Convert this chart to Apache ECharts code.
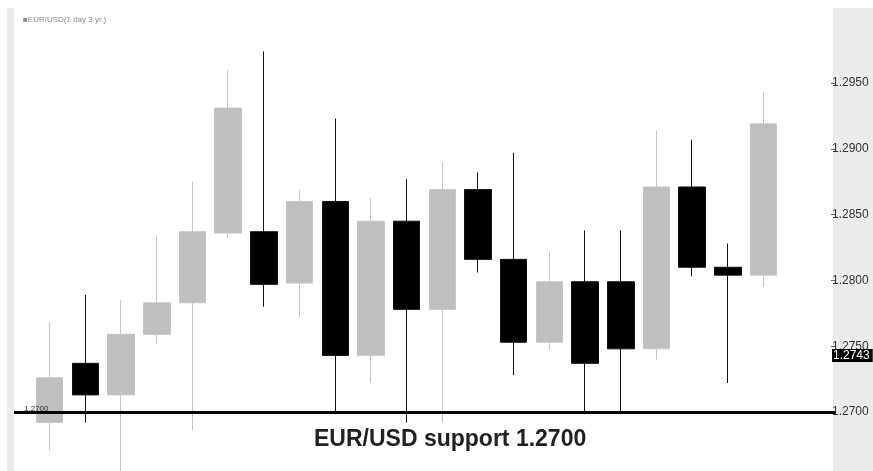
<!DOCTYPE html>
<html>
<head>
<meta charset="utf-8">
<script src="https://cdn.jsdelivr.net/npm/echarts@6/dist/echarts.min.js"></script>
<style>html,body{margin:0;padding:0;background:#fff;}#c{width:873px;height:471px;}</style>
</head>
<body>
<div id="c"></div>
<script>
// Daily candles, EUR/USD
const categories = ['', 'D1','D2','D3','D4','D5','D6','D7','D8','D9','D10','D11','D12','D13','D14','D15','D16','D17','D18','D19','D20','D21', ' ', '  '];
const opens  = [1.2692,1.2737,1.2713,1.2759,1.2783,1.2836,1.2837,1.2798,1.2860,1.2743,1.2845,1.2778,1.2869,1.2816,1.2753,1.2799,1.2799,1.2748,1.2871,1.2810,1.2804];
const closes = [1.2726,1.2713,1.2759,1.2783,1.2837,1.2931,1.2797,1.2860,1.2743,1.2845,1.2778,1.2869,1.2816,1.2753,1.2799,1.2737,1.2748,1.2871,1.2810,1.2804,1.2919];
const lows   = [1.2671,1.2692,1.2654,1.2752,1.2686,1.2832,1.2780,1.2772,1.2699,1.2722,1.2692,1.2692,1.2806,1.2728,1.2747,1.2700,1.2700,1.2740,1.2803,1.2722,1.2795];
const highs  = [1.2768,1.2789,1.2785,1.2834,1.2875,1.2960,1.2974,1.2869,1.2923,1.2863,1.2877,1.2890,1.2882,1.2897,1.2822,1.2838,1.2838,1.2914,1.2907,1.2828,1.2943];
const yTicks = [1.2700,1.2750,1.2800,1.2850,1.2900,1.2950];
const supportLevel = 1.2700;
const lastPrice = 1.2743;
const titleText = '■EUR/USD(1 day 3 yr.)';
const captionText = 'EUR/USD support 1.2700';

const empty = ['-','-','-','-'];
const candleData = [empty];
for (let i = 0; i < opens.length; i++) candleData.push([opens[i], closes[i], lows[i], highs[i]]);
candleData.push(empty, empty);

const chart = echarts.init(document.getElementById('c'), null, {renderer: 'canvas'});
chart.setOption({
  animation: false,
  backgroundColor: '#ffffff',
  graphic: [
    {type: 'rect', left: 7, top: 8, shape: {width: 7, height: 463}, style: {fill: '#ebebeb'}, z: -10},
    {type: 'rect', right: 0, top: 8, shape: {width: 40, height: 463}, style: {fill: '#ebebeb'}, z: -10}
  ],
  title: [
    {text: titleText, left: 18, top: 11, textStyle: {fontSize: 8, fontWeight: 'normal', color: '#8a8a8a', fontFamily: 'Liberation Sans'}},
    {text: captionText, left: 309, top: 423, textStyle: {fontSize: 23, fontWeight: 'bold', color: '#222', fontFamily: 'Liberation Sans'}}
  ],
  grid: {left: 14, right: 38, top: 30.4, height: 447.4, containLabel: false, outerBoundsMode: 'none'},
  xAxis: {
    type: 'category', data: categories, boundaryGap: false,
    axisLine: {show: false}, axisTick: {show: false}, axisLabel: {show: false}, splitLine: {show: false}
  },
  yAxis: {
    type: 'value', position: 'right', min: 1.265, max: 1.299, interval: 0.005, scale: true,
    axisLine: {show: false},
    axisTick: {show: true, inside: true, length: 4, lineStyle: {color: '#666'}},
    splitLine: {show: false},
    axisLabel: {
      margin: -3, showMinLabel: false, showMaxLabel: false,
      fontSize: 12, color: '#333', fontFamily: 'Liberation Sans',
      formatter: v => (yTicks.some(t => Math.abs(t - v) < 1e-7) ? v.toFixed(4) : '')
    },
    axisPointer: {
      show: true, status: 'show', value: lastPrice, type: 'line', triggerTooltip: false,
      lineStyle: {color: 'rgba(0,0,0,0)', width: 0},
      label: {show: true, margin: -3, backgroundColor: '#000', borderRadius: 0, color: '#fff', fontSize: 12, padding: [1, 3, 0, 1], fontFamily: 'Liberation Sans',
              formatter: p => Number(p.value).toFixed(4)}
    }
  },
  series: [{
    type: 'candlestick',
    data: candleData,
    barWidth: 27,
    itemStyle: {color: '#bfbfbf', color0: '#000000', borderColor: '#c6c6c6', borderColor0: '#111111', borderWidth: 1},
    markLine: {
      silent: true, symbol: ['none', 'none'], animation: false,
      data: [
        {yAxis: supportLevel, lineStyle: {color: '#000', width: 3, type: 'solid'},
         label: {show: true, position: 'insideStartTop', formatter: supportLevel.toFixed(4), fontSize: 8, color: '#333', distance: [10, -1], fontFamily: 'Liberation Sans'}}
      ]
    }
  }]
});
</script>
</body>
</html>
